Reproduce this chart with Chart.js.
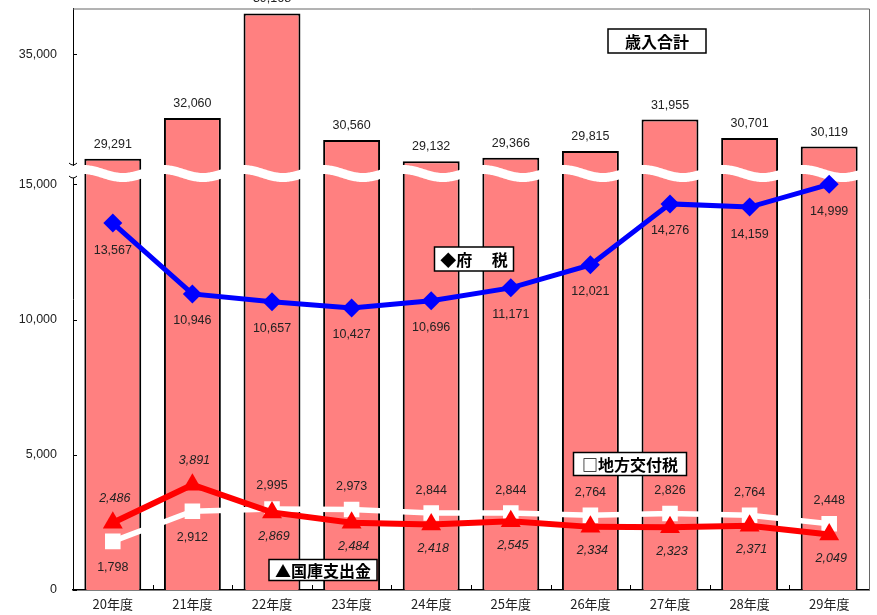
<!DOCTYPE html>
<html><head><meta charset="utf-8">
<script src="https://cdn.jsdelivr.net/npm/chart.js@4.4.1/dist/chart.umd.min.js"></script>
<style>html,body{margin:0;padding:0;background:#fff;}#wrap{width:877px;height:615px;}</style>
</head><body><div id="wrap"><canvas id="c" width="877" height="615"></canvas></div>
<script>
// ---- data ----
const categories = ['20年度','21年度','22年度','23年度','24年度','25年度','26年度','27年度','28年度','29年度'];
const totalRevenue = [29291, 32060, 39168, 30560, 29132, 29366, 29815, 31955, 30701, 30119];
const prefTax = [13567, 10946, 10657, 10427, 10696, 11171, 12021, 14276, 14159, 14999];
const localAllocTax = [1798, 2912, 2995, 2973, 2844, 2844, 2764, 2826, 2764, 2448];
const treasuryDisb = [2486, 3891, 2869, 2484, 2418, 2545, 2334, 2323, 2371, 2049];
const yTickValues = [0, 5000, 10000, 15000, 19800];
const yTickLabels = ['0', '5,000', '10,000', '15,000', '35,000'];

// ---- label placement (style): 1 = below the point, -1 = above ----
const localAllocSide = [1, 1, -1, -1, -1, -1, -1, -1, -1, -1];
const treasurySide = [-1, -1, 1, 1, 1, 1, 1, 1, 1, 1];

const NUM_FONT = '12.5px "Liberation Sans", Arial, sans-serif';
const NUM_FONT_I = 'italic 12.5px "Liberation Sans", Arial, sans-serif';
const JP_BOLD = 'bold 16px "Noto Sans CJK JP", sans-serif';
const fmt = v => v.toLocaleString('en-US');

function drawWave(chart) {
  const ctx = chart.ctx, a = chart.chartArea;
  const yc = 173.5, amp = 4, period = 80, phase = 583;
  ctx.save();
  ctx.beginPath();
  for (let x = a.left - 2; x <= a.right; x += 1) {
    const y = yc + amp * Math.sin(2 * Math.PI * (x - phase) / period);
    if (x === a.left - 2) ctx.moveTo(x, y); else ctx.lineTo(x, y);
  }
  ctx.strokeStyle = '#fff';
  ctx.lineWidth = 9;
  ctx.stroke();
  ctx.restore();
}

function box(ctx, text, cx, cy, w, h) {
  ctx.save();
  ctx.fillStyle = '#fff';
  ctx.fillRect(cx - w / 2, cy - h / 2, w, h);
  ctx.strokeStyle = '#000';
  ctx.lineWidth = 1.5;
  ctx.strokeRect(cx - w / 2, cy - h / 2, w, h);
  ctx.fillStyle = '#000';
  ctx.font = JP_BOLD;
  ctx.textAlign = 'center';
  ctx.textBaseline = 'middle';
  ctx.fillText(text, cx, cy + 1);
  ctx.restore();
}

const deco = {
  id: 'deco',
  afterDatasetDraw(chart, args) {
    if (args.index === 0) drawWave(chart);
  },
  afterDraw(chart) {
    const ctx = chart.ctx, a = chart.chartArea;
    const ys = chart.scales.y;
    ctx.save();
    // plot frame top & right
    ctx.strokeStyle = '#666';
    ctx.lineWidth = 1;
    ctx.beginPath();
    ctx.moveTo(a.left, a.top + 0.5);
    ctx.lineTo(a.right + 0.5, a.top + 0.5);
    ctx.lineTo(a.right + 0.5, a.bottom);
    ctx.stroke();
    // inner ticks on y axis
    ctx.strokeStyle = '#000';
    ctx.beginPath();
    yTickValues.forEach(v => {
      const y = Math.round(ys.getPixelForValue(v)) + 0.5;
      ctx.moveTo(a.left, y); ctx.lineTo(a.left + 4, y);
    });
    // inner ticks on x axis at category boundaries
    const n = categories.length, cw = (a.right - a.left) / n;
    for (let i = 1; i < n; i++) {
      const x = Math.round(a.left + i * cw) + 0.5;
      ctx.moveTo(x, a.bottom); ctx.lineTo(x, a.bottom - 5);
    }
    ctx.stroke();
    // axis break marks
    ctx.fillStyle = '#fff';
    ctx.fillRect(a.left - 3, 166, 7, 12);
    ctx.strokeStyle = '#000';
    ctx.lineWidth = 1;
    ctx.beginPath();
    ctx.moveTo(a.left - 4, 163); ctx.quadraticCurveTo(a.left, 167, a.left + 4, 163);
    ctx.moveTo(a.left - 4, 176); ctx.quadraticCurveTo(a.left, 180, a.left + 4, 176);
    ctx.stroke();

    // bar labels
    ctx.textAlign = 'center';
    ctx.textBaseline = 'middle';
    ctx.font = NUM_FONT;
    const bm = chart.getDatasetMeta(0);
    bm.data.forEach((el, i) => {
      const t = fmt(totalRevenue[i]);
      const w = ctx.measureText(t).width + 6;
      const y = el.y - 14.5;
      ctx.fillStyle = '#fff';
      ctx.fillRect(el.x - w / 2, y - 8, w, 16);
      ctx.fillStyle = '#222';
      ctx.fillText(t, el.x, y);
    });
    // 地方交付税 labels
    const lm = chart.getDatasetMeta(1);
    lm.data.forEach((el, i) => {
      const off = localAllocSide[i] > 0 ? 26 : -23;
      ctx.fillStyle = '#222';
      ctx.fillText(fmt(localAllocTax[i]), el.x, el.y + off);
    });
    // 国庫支出金 labels
    ctx.font = NUM_FONT_I;
    const tm = chart.getDatasetMeta(2);
    tm.data.forEach((el, i) => {
      const off = treasurySide[i] > 0 ? 24 : -24;
      ctx.fillStyle = '#222';
      ctx.fillText(fmt(treasuryDisb[i]), el.x + 2, el.y + off);
    });
    // 府税 labels
    ctx.font = NUM_FONT;
    const pm = chart.getDatasetMeta(3);
    pm.data.forEach((el, i) => {
      ctx.fillStyle = '#222';
      ctx.fillText(fmt(prefTax[i]), el.x, el.y + 27);
    });
    ctx.restore();

    // series name boxes
    box(ctx, '歳入合計', 657, 41, 98, 24);
    box(ctx, '◆府　 税', 474, 259, 79, 24);
    box(ctx, '□地方交付税', 630, 464, 113, 23);
    box(ctx, '▲国庫支出金', 323, 570, 108, 21);
  }
};

new Chart(document.getElementById('c'), {
  data: {
    labels: categories,
    datasets: [
      { type: 'bar', label: '歳入合計', data: totalRevenue, yAxisID: 'y2',
        backgroundColor: '#FF8080', borderColor: '#000', borderWidth: 2,
        categoryPercentage: 1, barPercentage: 0.715, order: 10 },
      { type: 'line', label: '地方交付税', data: localAllocTax, yAxisID: 'y',
        borderColor: '#fff', backgroundColor: '#fff', borderWidth: 5.5,
        pointStyle: 'rect', pointRadius: 11, pointBorderWidth: 0, order: 3 },
      { type: 'line', label: '国庫支出金', data: treasuryDisb, yAxisID: 'y',
        borderColor: '#f00', backgroundColor: '#f00', borderWidth: 6,
        pointStyle: 'triangle', pointRadius: 11.5, pointBorderWidth: 0, order: 2 },
      { type: 'line', label: '府税', data: prefTax, yAxisID: 'y',
        borderColor: '#00f', backgroundColor: '#00f', borderWidth: 5,
        pointStyle: 'rectRot', pointRadius: 9.5, pointBorderWidth: 0, order: 1 }
    ]
  },
  options: {
    responsive: false,
    animation: false,
    devicePixelRatio: 1,
    layout: { autoPadding: false, padding: { top: 8.5, right: 8, left: 0, bottom: 0 } },
    plugins: { legend: { display: false }, tooltip: { enabled: false } },
    scales: {
      x: {
        offset: true,
        grid: { display: false, drawTicks: false },
        border: { display: true, color: '#000', width: 1.5 },
        ticks: { font: { family: '"Noto Sans CJK JP"', size: 13 }, color: '#222', padding: 6, maxRotation: 0 },
        afterFit(s) { s.height = 25; s.paddingLeft = 0; s.paddingRight = 0; }
      },
      y: {
        position: 'left', min: 0, max: 21500,
        afterBuildTicks(s) { s.ticks = yTickValues.map(v => ({ value: v })); },
        grid: { display: false, drawTicks: false },
        border: { display: true, color: '#000', width: 1 },
        ticks: { font: { family: '"Liberation Sans"', size: 12.5 }, color: '#222', padding: 16,
                 callback: (v) => yTickLabels[yTickValues.indexOf(v)] },
        afterFit(s) { s.width = 73; s.paddingTop = 0; s.paddingBottom = 0; }
      },
      y2: { display: false, min: 0, max: 39500 }
    }
  },
  plugins: [deco]
});
</script></body></html>
